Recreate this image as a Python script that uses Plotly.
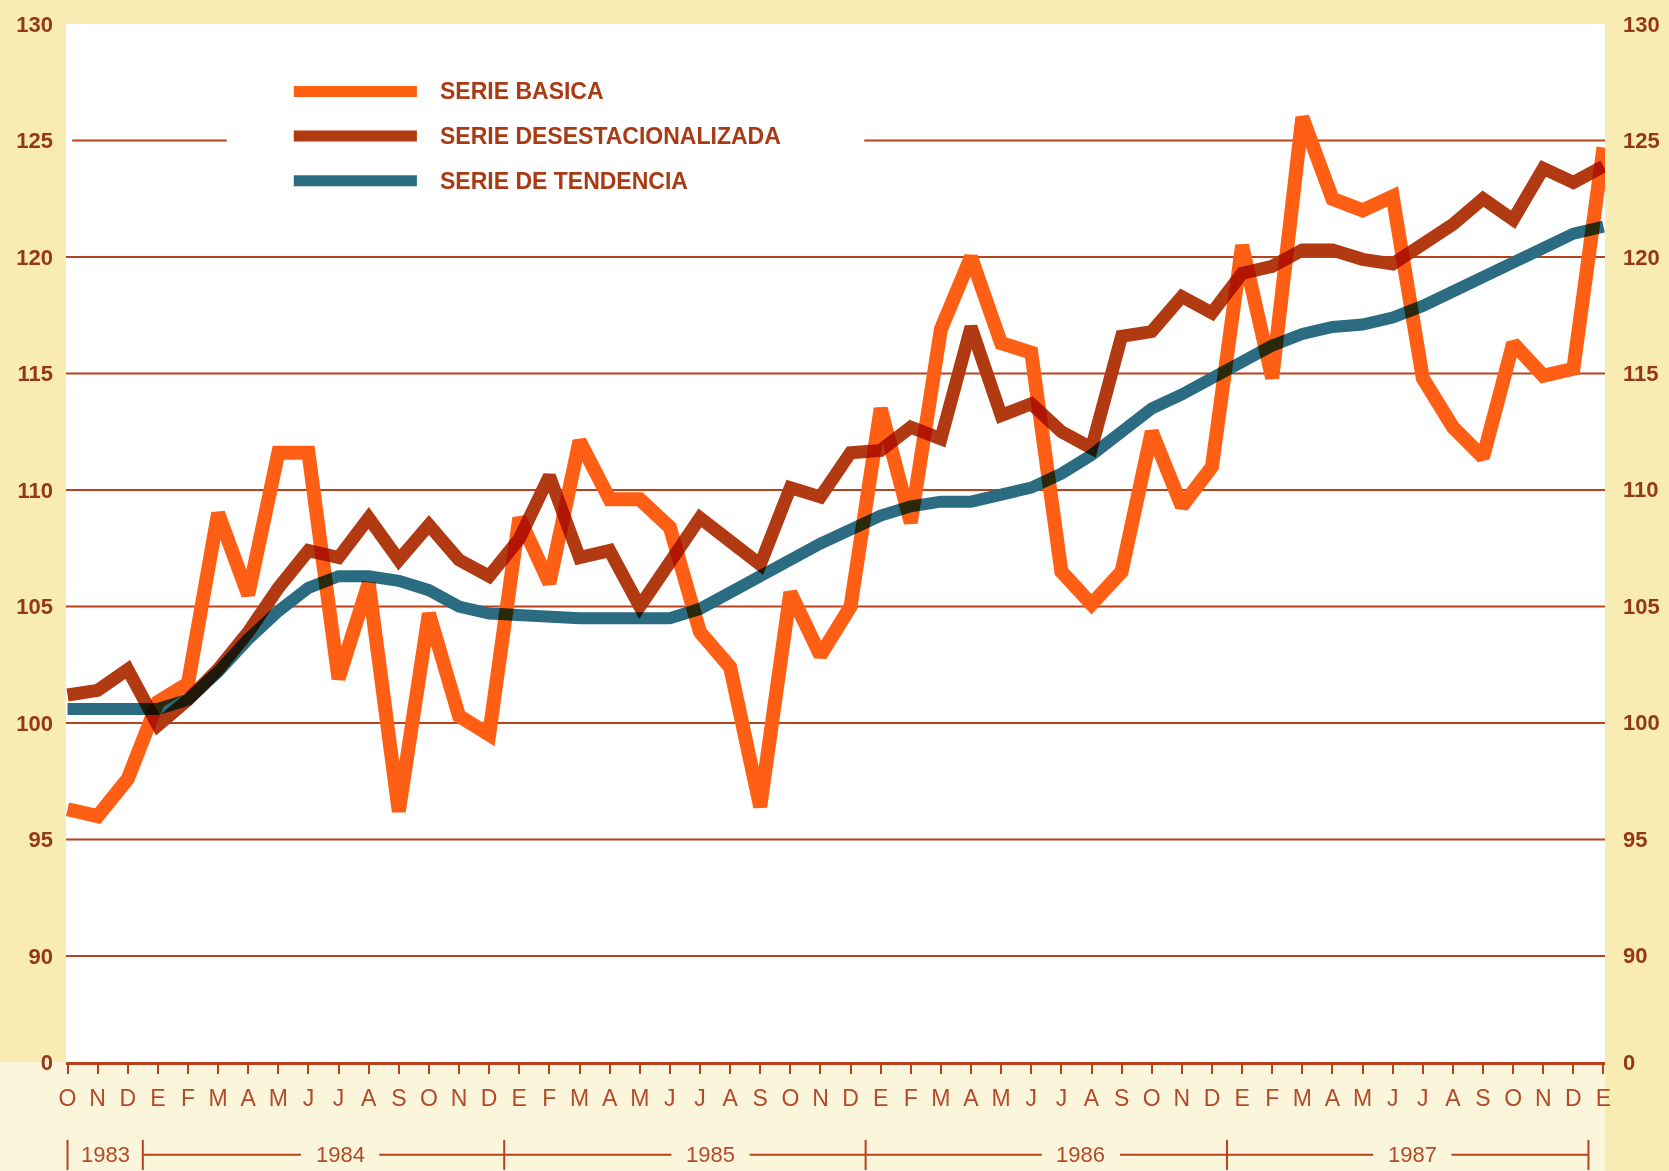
import plotly.graph_objects as go

# ---------------- data ----------------
months = ["O", "N", "D"] + ["E", "F", "M", "A", "M", "J", "J", "A", "S", "O", "N", "D"] * 4 + ["E"]
years = ["1983", "1984", "1985", "1986", "1987"]
year_start = [0, 2.5, 14.5, 26.5, 38.5]     # month-index boundaries of each year bracket
year_end = [2.5, 14.5, 26.5, 38.5, 50.5]

serie_basica = [96.3, 96.0, 97.6, 100.9, 101.7, 109.0, 105.5, 111.6, 111.6, 101.9, 106.0, 96.2,
                104.7, 100.3, 99.5, 108.8, 106.0, 112.1, 109.6, 109.6, 108.4, 103.9, 102.4, 96.4,
                105.6, 102.9, 105.0, 113.5, 108.6, 116.9, 120.0, 116.3, 115.9, 106.5, 105.1, 106.5,
                112.5, 109.3, 111.0, 120.5, 114.8, 126.0, 122.5, 122.0, 122.6, 114.8, 112.7, 111.4,
                116.3, 114.9, 115.2, 124.7]
serie_desest = [101.2, 101.4, 102.3, 99.9, 101.0, 102.3, 103.9, 105.8, 107.4, 107.1, 108.8, 107.0,
                108.5, 107.0, 106.3, 107.9, 110.6, 107.1, 107.4, 105.0, 106.9, 108.8, 107.8, 106.8,
                110.1, 109.7, 111.6, 111.7, 112.7, 112.2, 117.0, 113.2, 113.7, 112.5, 111.8, 116.6,
                116.8, 118.3, 117.6, 119.3, 119.6, 120.3, 120.3, 119.9, 119.7, 120.6, 121.4, 122.5,
                121.6, 123.8, 123.2, 123.9]
serie_tend = [100.6, 100.6, 100.6, 100.6, 101.0, 102.2, 103.6, 104.8, 105.8, 106.3, 106.3, 106.1,
              105.7, 105.0, 104.7, 104.6, 104.5, 104.5, 104.5, 104.5, 104.5, 104.9, 105.6, 106.4,
              107.1, 107.7, 108.3, 108.9, 109.3, 109.5, 109.5, 109.8, 110.1, 110.7, 111.5, 112.5,
              113.5, 114.1, 114.8, 115.6, 116.2, 116.7, 117.0, 117.1, 117.4, 117.9, 118.5, 119.2,
              119.8, 120.4, 121.0, 121.3]

series_names = ["SERIE BASICA", "SERIE DESESTACIONALIZADA", "SERIE DE TENDENCIA"]

y_ticks = [90, 95, 100, 105, 110, 115, 120, 125, 130]
y_break = 85.45          # where the broken axis shows "0"
y_break_label = "0"

# ---------------- style ----------------
ORANGE = "#ff5f15"
DARKRED = "#b23a12"
TEAL = "#2b6c82"
GRID = "#b8421c"
TXT_Y = "#93381a"
TXT_X = "#b34a28"
FONT = "Liberation Sans, Arial, Helvetica, sans-serif"
year_label_shift = [0.0, 0.55, 0.85, 1.15, 0.15]   # label placement inside each bracket

x = list(range(len(months)))

fig = go.Figure()
for vals, col, w, nm in [(serie_basica, ORANGE, 14, series_names[0]),
                         (serie_tend, TEAL, 12, series_names[2]),
                         (serie_desest, DARKRED, 13, series_names[1])]:
    fig.add_trace(go.Scatter(x=x, y=vals, mode="lines", name=nm,
                             line=dict(color=col, width=w), showlegend=False,
                             hoverinfo="skip"))

shapes = []
# horizontal rules (the 125 one is interrupted by the legend)
for v in y_ticks[:-1]:
    segs = [(0.004, 0.1044), (0.5187, 1.0)] if v == 125 else [(0.0, 1.0)]
    for a, b in segs:
        shapes.append(dict(type="line", xref="x domain", yref="y", x0=a, x1=b, y0=v, y1=v,
                           line=dict(color=GRID, width=2), layer="below"))

# pale band under the plot (scan background)
shapes.append(dict(type="rect", xref="paper", yref="paper", x0=-0.0429, x1=1.0, y0=-0.105, y1=0,
                   fillcolor="#fbf5dc", line=dict(width=0), layer="below"))

# year brackets
YR = -0.0893
for k, yr in enumerate(years):
    a, b = year_start[k], year_end[k]
    mid = (a + b) / 2 + year_label_shift[k]
    gap = 1.3
    for s0, s1 in [(a, mid - gap), (mid + gap, b)]:
        if s1 > s0:
            shapes.append(dict(type="line", xref="x", yref="paper", x0=s0, x1=s1, y0=YR, y1=YR,
                               line=dict(color=GRID, width=2)))
for bnd in year_start + [year_end[-1]]:
    shapes.append(dict(type="line", xref="x", yref="paper", x0=bnd, x1=bnd, y0=-0.075, y1=-0.104,
                       line=dict(color=GRID, width=2)))

# legend swatches
leg_y = [0.935, 0.892, 0.849]
leg_cols = [ORANGE, DARKRED, TEAL]
for yy, c in zip(leg_y, leg_cols):
    shapes.append(dict(type="line", xref="paper", yref="paper", x0=0.148, x1=0.228, y0=yy, y1=yy,
                       line=dict(color=c, width=11)))

annotations = []
for yy, nm in zip(leg_y, series_names):
    annotations.append(dict(xref="paper", yref="paper", x=0.242, y=yy, text=nm, showarrow=False,
                            xanchor="left", yanchor="middle",
                            font=dict(family=FONT, size=23, color="#a83a14", weight="bold")))
for k, yr in enumerate(years):
    annotations.append(dict(xref="x", yref="paper",
                            x=(year_start[k] + year_end[k]) / 2 + year_label_shift[k], y=YR,
                            text=yr, showarrow=False, xanchor="center", yanchor="middle",
                            font=dict(family=FONT, size=22, color=TXT_X)))
# right-hand tick labels
for v, t in zip([y_break] + y_ticks, [y_break_label] + [str(t) for t in y_ticks]):
    annotations.append(dict(xref="paper", yref="y", x=1.0, y=v, text=t, showarrow=False,
                            xanchor="left", yanchor="middle", xshift=16,
                            font=dict(family=FONT, size=22, color=TXT_Y, weight="bold")))

fig.update_layout(
    width=1669, height=1171,
    margin=dict(l=66, r=64, t=21, b=109),
    paper_bgcolor="#f8ecb2",
    plot_bgcolor="#ffffff",
    shapes=shapes,
    annotations=annotations,
    showlegend=False,
    xaxis=dict(range=[-0.05, 51.05], tickmode="array", tickvals=x, ticktext=months,
               ticks="outside", ticklen=9, tickwidth=2, tickcolor=GRID,
               showline=True, linecolor=GRID, linewidth=3, showgrid=False, zeroline=False,
               tickfont=dict(family=FONT, size=23, color=TXT_X), ticklabelstandoff=4),
    yaxis=dict(range=[y_break, 130], tickmode="array", tickvals=[y_break] + y_ticks,
               ticktext=[y_break_label] + [str(t) for t in y_ticks],
               showgrid=False, zeroline=False, showline=False, ticks="",
               tickfont=dict(family=FONT, size=22, color=TXT_Y, weight="bold"),
               ticklabelstandoff=12),
)

fig.write_html("out.html", config={"displayModeBar": False}, post_script=(
    "document.body.style.margin='0';"
    "document.querySelectorAll('.scatterlayer .trace').forEach(function(t){"
    "t.style.mixBlendMode='multiply';});"))
